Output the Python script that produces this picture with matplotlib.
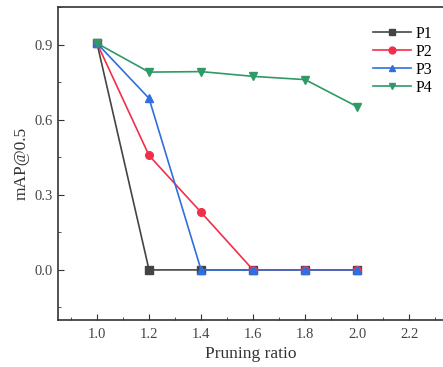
import matplotlib
matplotlib.use("Agg")
import matplotlib.pyplot as plt
from matplotlib.ticker import MultipleLocator

plt.rcParams['font.family'] = ['Liberation Serif', 'DejaVu Serif']

ratios = [1.0, 1.2, 1.4, 1.6, 1.8, 2.0]
p1 = [0.905, 0.0, 0.0, 0.0, 0.0, 0.0]
p2 = [0.905, 0.457, 0.230, 0.0, 0.0, 0.0]
p3 = [0.905, 0.685, 0.0, 0.0, 0.0, 0.0]
p4 = [0.905, 0.790, 0.792, 0.773, 0.760, 0.652]
names = ["P1", "P2", "P3", "P4"]
colors = ["#444444", "#f0304a", "#2f6fe0", "#2e9a66"]
markers = ["s", "o", "^", "v"]

fig = plt.figure(figsize=(4.43, 3.67), dpi=100)
ax = fig.add_axes([58/443, 1-320/367, 1-58/443, (320-7)/367])

for ys, n, c, m in zip([p1, p2, p3, p4], names, colors, markers):
    ax.plot(ratios, ys, color=c, marker=m, markersize=5.5, linewidth=1.2, label=n)

ax.set_xlim(0.85, 2.33)
ax.set_ylim(-0.2, 1.05)
ax.xaxis.set_major_locator(MultipleLocator(0.2))
ax.xaxis.set_minor_locator(MultipleLocator(0.1))
ax.yaxis.set_major_locator(MultipleLocator(0.3))
ax.yaxis.set_minor_locator(MultipleLocator(0.15))
ax.set_xticks([1.0, 1.2, 1.4, 1.6, 1.8, 2.0, 2.2])
ax.set_xticklabels(["1.0", "1.2", "1.4", "1.6", "1.8", "2.0", "2.2"])
ax.set_yticks([0.0, 0.3, 0.6, 0.9])
ax.set_yticklabels(["0.0", "0.3", "0.6", "0.9"])
ax.tick_params(which='both', direction='in', labelsize=10.5, colors='#333333', labelcolor='#444444')
ax.tick_params(which='major', length=4)
ax.tick_params(which='minor', length=2.5)
ax.tick_params(axis='x', pad=6)
for s in ['left', 'bottom', 'top']:
    ax.spines[s].set_linewidth(1.2)
    ax.spines[s].set_color('#333333')
ax.spines['right'].set_visible(False)

ax.set_xlabel("Pruning ratio", fontsize=12.5, color='#333333', labelpad=3)
ax.set_ylabel("mAP@0.5", fontsize=12.5, color='#333333', labelpad=4)

ax.legend(loc='upper right', bbox_to_anchor=(0.99, 0.96), frameon=False, fontsize=11.5,
          handlelength=2.4, handletextpad=0.3, labelspacing=0.12, borderaxespad=0,
          markerscale=0.9)

fig.savefig("out.png", dpi=100)
